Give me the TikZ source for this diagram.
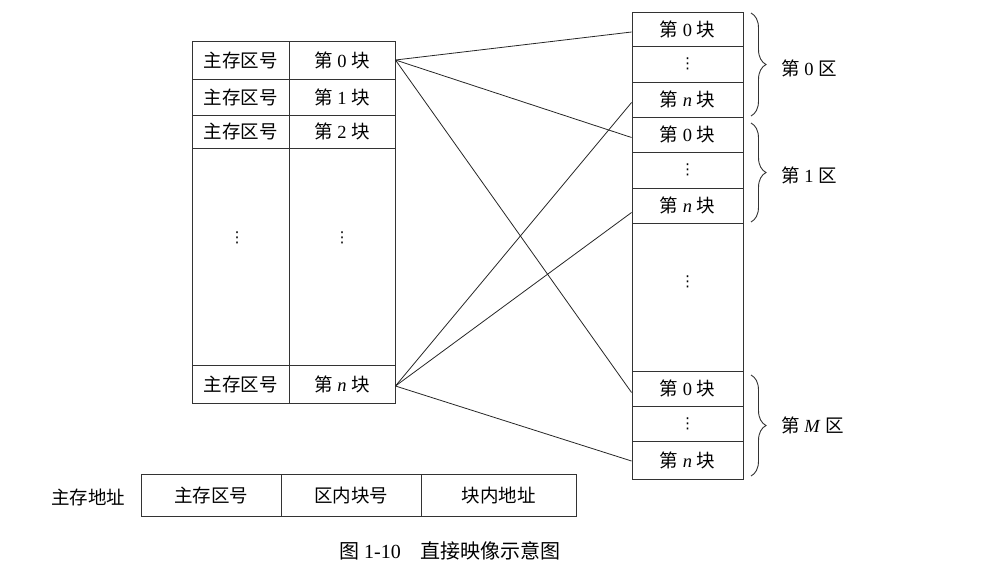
\documentclass[tikz,border=0pt]{standalone}
\usepackage{fontspec}
\setmainfont{Liberation Serif}
\newfontfamily\cjk{Noto Sans CJK SC}
\newfontfamily\sym{DejaVu Sans}
\usetikzlibrary{decorations.pathreplacing}
\newcommand\vdd{{\sym\fontsize{15}{16}\selectfont ⋮}}
\newcommand\blk[1]{{\cjk 第} #1 {\cjk 块}}
\begin{document}
\begin{tikzpicture}[x=1pt,y=-1pt,
  cell/.style={draw=black!80, line width=0.9pt, inner sep=0pt, font=\fontsize{18.5}{20}\selectfont},
  txt/.style={inner sep=0pt, font=\fontsize{18.5}{20}\selectfont},
  link/.style={line width=0.8pt, draw=black!85},
  zbrace/.style={decorate, decoration={brace, amplitude=15pt}, line width=0.9pt, draw=black!80}]
\useasboundingbox (0,0) rectangle (1000,584);
% left table
\node[cell, minimum width=97pt, minimum height=38pt] (a0) at (240.5,60) {\cjk 主存区号};
\node[cell, minimum width=106pt, minimum height=38pt] (b0) at (342,60) {\blk{0}};
\node[cell, minimum width=97pt, minimum height=36pt] (a1) at (240.5,97) {\cjk 主存区号};
\node[cell, minimum width=106pt, minimum height=36pt] (b1) at (342,97) {\blk{1}};
\node[cell, minimum width=97pt, minimum height=33pt] (a2) at (240.5,131.5) {\cjk 主存区号};
\node[cell, minimum width=106pt, minimum height=33pt] (b2) at (342,131.5) {\blk{2}};
\node[cell, minimum width=97pt, minimum height=217pt] (a3) at (240.5,256.5) {};
\node[cell, minimum width=106pt, minimum height=217pt] (b3) at (342,256.5) {};
\node[txt] (a3d) at (237,238) {\vdd};
\node[txt] (b3d) at (342,238) {\vdd};
\node[cell, minimum width=97pt, minimum height=38pt] (an) at (240.5,384) {\cjk 主存区号};
\node[cell, minimum width=106pt, minimum height=38pt] (bn) at (342,384) {\blk{\textit{n}}};
% right column
\node[cell, minimum width=111pt, minimum height=34pt] (z00) at (687.5,29) {\blk{0}};
\node[cell, minimum width=111pt, minimum height=36pt] (z0d) at (687.5,64) {\vdd};
\node[cell, minimum width=111pt, minimum height=35pt] (z0n) at (687.5,99.5) {\blk{\textit{n}}};
\node[cell, minimum width=111pt, minimum height=35pt] (z10) at (687.5,134.5) {\blk{0}};
\node[cell, minimum width=111pt, minimum height=36pt] (z1d) at (687.5,170) {\vdd};
\node[cell, minimum width=111pt, minimum height=35pt] (z1n) at (687.5,205.5) {\blk{\textit{n}}};
\node[cell, minimum width=111pt, minimum height=148pt] (zmid) at (687.5,297) {};
\node[txt] (zmidd) at (687.5,282) {\vdd};
\node[cell, minimum width=111pt, minimum height=35pt] (zm0) at (687.5,388.5) {\blk{0}};
\node[cell, minimum width=111pt, minimum height=35pt] (zmd) at (687.5,423.5) {\vdd};
\node[cell, minimum width=111pt, minimum height=38pt] (zmn) at (687.5,460) {\blk{\textit{n}}};
% braces
\coordinate (br0t) at (751,13); \coordinate (br0b) at (751,116);
\coordinate (br1t) at (751,123); \coordinate (br1b) at (751,222);
\coordinate (brmt) at (751,375); \coordinate (brmb) at (751,476);
\draw[zbrace] (br0t) -- (br0b);
\draw[zbrace] (br1t) -- (br1b);
\draw[zbrace] (brmt) -- (brmb);
\node[txt, anchor=west] (q0) at (781,68) {{\cjk 第} 0 {\cjk 区}};
\node[txt, anchor=west] (q1) at (781,175) {{\cjk 第} 1 {\cjk 区}};
\node[txt, anchor=west] (qm) at (781,425) {{\cjk 第} \textit{M} {\cjk 区}};
% links
\draw[link] (b0.east) -- ([yshift=-3pt]z00.west);
\draw[link] (b0.east) -- ([yshift=-3pt]z10.west);
\draw[link] (b0.east) -- ([yshift=-4pt]zm0.west);
\draw[link] ([yshift=-2pt]bn.east) -- ([yshift=-3pt]z0n.west);
\draw[link] ([yshift=-2pt]bn.east) -- ([yshift=-7pt]z1n.west);
\draw[link] ([yshift=-2pt]bn.east) -- ([yshift=-1pt]zmn.west);
% address
\node[txt] (addr) at (88,497) {\cjk 主存地址};
\node[cell, minimum width=140pt, minimum height=42pt] (f1) at (211,495) {\cjk 主存区号};
\node[cell, minimum width=140pt, minimum height=42pt] (f2) at (351,495) {\cjk 区内块号};
\node[cell, minimum width=155pt, minimum height=42pt] (f3) at (498.5,495) {\cjk 块内地址};
\node[inner sep=0pt, font=\fontsize{20}{22}\selectfont] (cap) at (450,551) {{\cjk 图} 1-10\hspace{1em}{\cjk 直接映像示意图}};
\end{tikzpicture}
\end{document}
